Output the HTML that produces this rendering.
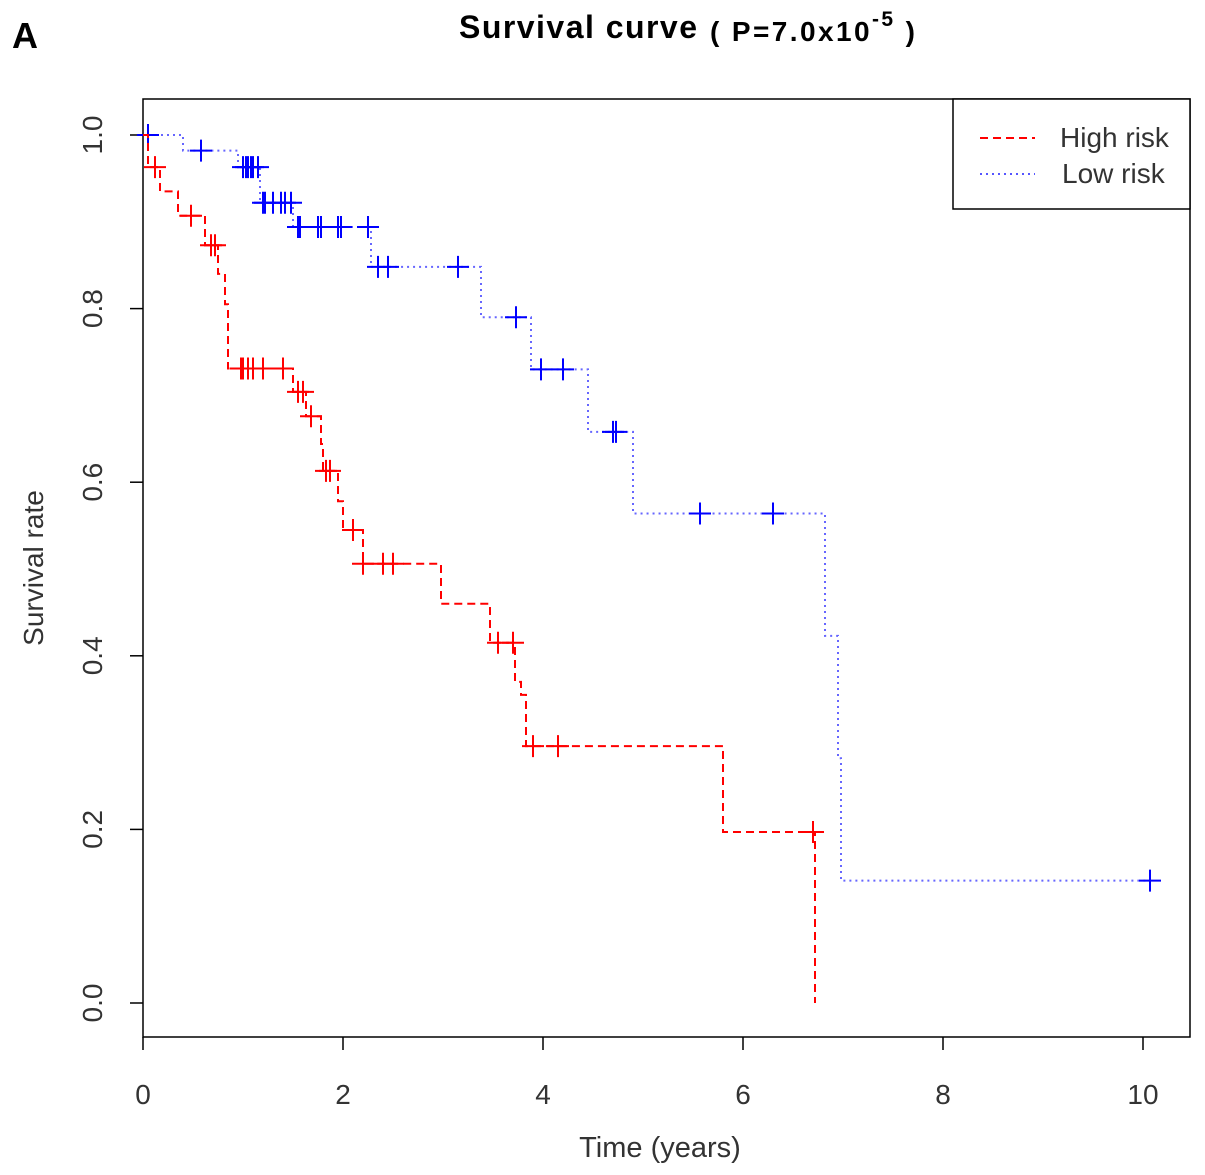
<!DOCTYPE html>
<html><head><meta charset="utf-8"><style>
body{margin:0;background:#fff;}
svg{display:block;font-family:"Liberation Sans",Arial,sans-serif;}
</style></head><body>
<svg id="chart" width="1205" height="1175" viewBox="0 0 1205 1175">
<text x="12" y="48" font-size="36" font-weight="bold">A</text>
<text x="459" y="38" font-size="32" font-weight="bold" textLength="238">Survival curve</text>
<text x="710" y="41" font-size="28" font-weight="bold" textLength="205">( P=7.0x10<tspan font-size="21" dy="-15">-5</tspan><tspan dy="15"> )</tspan></text>
<rect x="143" y="99" width="1047" height="938" fill="none" stroke="#000" stroke-width="1.5"/>
<g id="axes"></g>
<g id="series"></g>
<text transform="translate(43,568) rotate(-90)" text-anchor="middle" font-size="28" fill="#333">Survival rate</text>
<text x="660" y="1157" text-anchor="middle" font-size="29" fill="#333">Time (years)</text>
<g>
<rect x="953" y="99" width="237" height="110" fill="#fff" stroke="#000" stroke-width="1.5"/>
<line x1="980" y1="138" x2="1035" y2="138" stroke="#f00" stroke-width="2" stroke-dasharray="8,5"/>
<text x="1060" y="147" font-size="28" fill="#333">High risk</text>
<line x1="980" y1="174" x2="1035" y2="174" stroke="#55f" stroke-width="2" stroke-dasharray="2,4"/>
<text x="1062" y="183" font-size="28" fill="#333">Low risk</text>
</g>
</svg>
<script>
const xTicks=[0,2,4,6,8,10];
const yTicks=[0.0,0.2,0.4,0.6,0.8,1.0];
const highTimes=[0,0.05,0.17,0.35,0.62,0.75,0.82,0.85,1.5,1.63,1.78,1.8,1.95,2.0,2.2,2.98,3.47,3.72,3.78,3.83,5.8,6.72];
const highSurv=[1.0,0.963,0.935,0.907,0.873,0.84,0.805,0.731,0.704,0.676,0.644,0.613,0.578,0.545,0.506,0.46,0.415,0.37,0.355,0.296,0.197,0.0];
const highEnd=6.72;
const highCensor=[0.12,0.48,0.68,0.72,0.98,1.0,1.05,1.1,1.2,1.4,1.55,1.6,1.68,1.83,1.87,2.1,2.2,2.4,2.5,3.55,3.7,3.9,4.15,6.7];
const lowTimes=[0,0.4,0.95,1.17,1.5,2.28,3.38,3.88,4.45,4.9,6.82,6.95,6.98];
const lowSurv=[1.0,0.982,0.963,0.922,0.894,0.848,0.79,0.73,0.658,0.564,0.423,0.282,0.141];
const lowEnd=10.07;
const lowCensor=[0.05,0.58,1.0,1.03,1.05,1.08,1.1,1.15,1.2,1.22,1.3,1.38,1.42,1.48,1.55,1.57,1.75,1.78,1.95,1.98,2.25,2.35,2.45,3.15,3.73,3.98,4.2,4.7,4.73,5.57,6.3,10.07];
const X=t=>143+100*t, Y=s=>1003-868*s;
const NS="http://www.w3.org/2000/svg";
const axes=document.getElementById('axes'), ser=document.getElementById('series');
function mk(tag,at,parent){const e=document.createElementNS(NS,tag);for(const k in at)e.setAttribute(k,at[k]);parent.appendChild(e);return e;}
xTicks.forEach(v=>{
 const l=mk('line',{x1:X(v),x2:X(v),y1:1037,y2:1050,stroke:'#000','stroke-width':1.5},axes);
 
 
 const t=mk('text',{x:X(v),y:1104,'text-anchor':'middle','font-size':28,fill:'#333'},axes);t.textContent=v;
 
 
});
yTicks.forEach(v=>{
 const l=mk('line',{x1:130,x2:143,y1:Y(v),y2:Y(v),stroke:'#000','stroke-width':1.5},axes);
 
 
 const t=mk('text',{transform:`translate(102,${Y(v)}) rotate(-90)`,'text-anchor':'middle','font-size':28,fill:'#333'},axes);t.textContent=v.toFixed(1);
 
 
});
function stepPath(ts,ss,end){let d=`M${X(ts[0])},${Y(ss[0])}`;for(let i=1;i<ts.length;i++){d+=`H${X(ts[i])}V${Y(ss[i])}`;}d+=`H${X(end)}`;return d;}
function survAt(ts,ss,t){let s=ss[0];for(let i=0;i<ts.length;i++){if(ts[i]<=t)s=ss[i];}return s;}
function draw(ts,ss,end,cens,color,dash,name){
 const p=mk('path',{d:stepPath(ts,ss,end),fill:'none',stroke:color,'stroke-width':2,'stroke-dasharray':dash},ser);
 
 
 const mc=color==='#f00'?'#f00':'#00f';
 cens.forEach(t=>{const x=X(t),y=Y(survAt(ts,ss,t));
  const g=mk('path',{d:`M${x-11},${y}H${x+11}M${x},${y-11}V${y+11}`,stroke:mc,'stroke-width':2},ser);
  
  });
}
draw(lowTimes,lowSurv,lowEnd,lowCensor,'#66f','2,4','low-risk');
draw(highTimes,highSurv,highEnd,highCensor,'#f00','8,5','high-risk');
</script>
</body></html>
